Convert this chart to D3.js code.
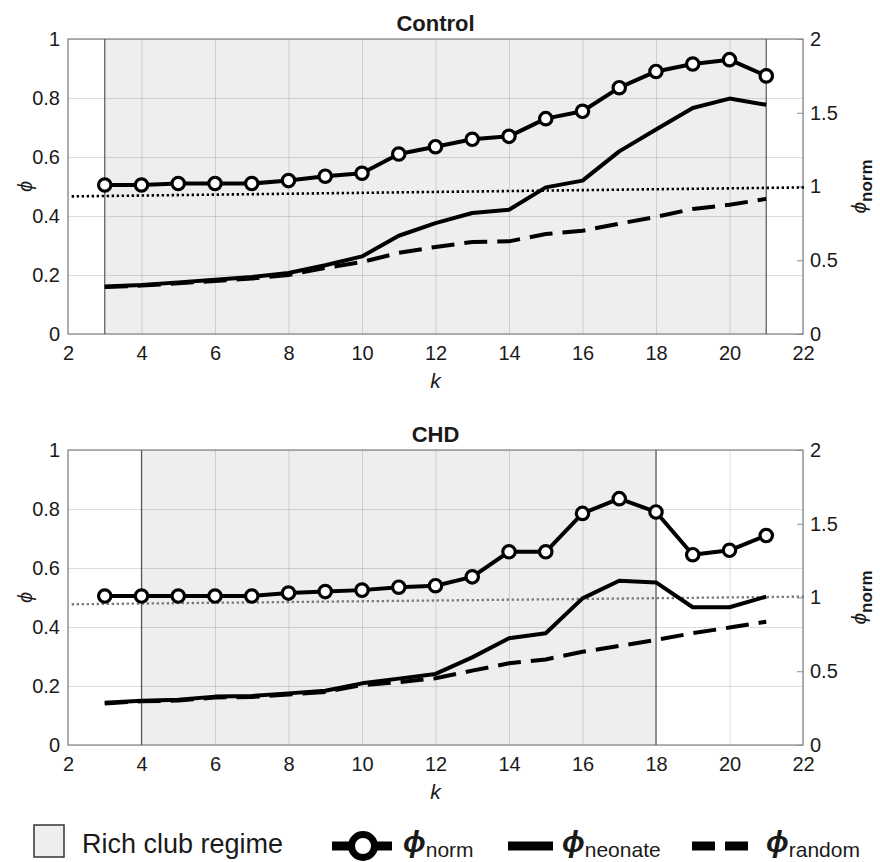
<!DOCTYPE html>
<html>
<head>
<meta charset="utf-8">
<script src="https://cdn.jsdelivr.net/npm/d3@7"></script>
<style>
  body { margin: 0; background: #fff; }
  text { font-family: "Liberation Sans", Arial, Helvetica, sans-serif; fill: #1a1a1a; }
</style>
</head>
<body>
<svg id="chart" width="880" height="862"></svg>
<script>
// degree k, same for both panels
const kValues = [3, 4, 5, 6, 7, 8, 9, 10, 11, 12, 13, 14, 15, 16, 17, 18, 19, 20, 21];

// Control
const controlNorm = [1.01, 1.01, 1.02, 1.02, 1.02, 1.04, 1.07, 1.09, 1.22, 1.27, 1.32, 1.34, 1.46, 1.51, 1.67, 1.78, 1.83, 1.86, 1.75];
const controlNeonate = [0.161, 0.166, 0.175, 0.184, 0.193, 0.207, 0.233, 0.263, 0.333, 0.376, 0.410, 0.421, 0.497, 0.520, 0.619, 0.693, 0.766, 0.798, 0.777];
const controlRandom = [0.159, 0.164, 0.172, 0.180, 0.188, 0.200, 0.224, 0.244, 0.275, 0.295, 0.312, 0.314, 0.339, 0.350, 0.374, 0.397, 0.424, 0.438, 0.458];

// CHD
const chdNorm = [1.01, 1.01, 1.01, 1.01, 1.01, 1.03, 1.04, 1.05, 1.07, 1.08, 1.14, 1.31, 1.31, 1.57, 1.67, 1.58, 1.29, 1.32, 1.42];
const chdNeonate = [0.143, 0.150, 0.153, 0.164, 0.166, 0.175, 0.184, 0.209, 0.225, 0.241, 0.297, 0.362, 0.379, 0.497, 0.557, 0.551, 0.467, 0.467, 0.503];
const chdRandom = [0.141, 0.148, 0.151, 0.161, 0.163, 0.171, 0.180, 0.203, 0.213, 0.226, 0.252, 0.277, 0.290, 0.316, 0.336, 0.356, 0.379, 0.398, 0.418];

// rich club regime (k range) and the phi_norm = 1 reference line
const controlRegime = [3, 21];
const chdRegime = [4, 18];
const refK = [2.1, 22.1];
const controlRef = [0.933, 0.994];
const chdRef = [0.954, 1.006];

// axis ticks
const xTicks = [2, 4, 6, 8, 10, 12, 14, 16, 18, 20, 22];
const yTicks = [0, 0.2, 0.4, 0.6, 0.8, 1];
const normTicks = [0, 0.5, 1, 1.5, 2];

const PHI = "\u03D5";
const svg = d3.select("#chart");
const plotLeft = 68, plotRight = 803;

const x = d3.scaleLinear().domain([2, 22]).range([plotLeft, plotRight]);

function zip(ks, vs) {
  return ks.map((k, i) => ({k, v: vs[i]}));
}

function styleTicks(sel) {
  sel.selectAll(".tick text")
    .attr("font-size", 20)
    .attr("fill", "#1a1a1a")
    .style("font-family", "Liberation Sans, Arial, sans-serif");
}

function drawPanel(p) {
  const y = d3.scaleLinear().domain([0, 1]).range([p.bottom, p.top]);
  const yNorm = d3.scaleLinear().domain([0, 2]).range([p.bottom, p.top]);
  const h = p.bottom - p.top;
  const g = svg.append("g");

  // shaded regime
  g.append("rect")
    .attr("x", x(p.regime[0]))
    .attr("y", p.top)
    .attr("width", x(p.regime[1]) - x(p.regime[0]))
    .attr("height", h)
    .attr("fill", "#eeeeee");

  // x grid + labels
  const gx = g.append("g")
    .attr("transform", `translate(0,${p.bottom})`)
    .call(d3.axisBottom(x).tickValues(xTicks).tickSize(-h).tickPadding(12).tickFormat(d3.format("d")));
  gx.select(".domain").remove();
  gx.selectAll(".tick line").attr("stroke", "#000").attr("stroke-opacity", 0.13);
  styleTicks(gx);

  // y grid + labels
  const gy = g.append("g")
    .attr("transform", `translate(${plotLeft},0)`)
    .call(d3.axisLeft(y).tickValues(yTicks).tickSize(-(plotRight - plotLeft)).tickPadding(8).tickFormat(d3.format("~g")));
  gy.select(".domain").remove();
  gy.selectAll(".tick line").attr("stroke", "#000").attr("stroke-opacity", 0.13);
  styleTicks(gy);

  // right axis (phi_norm)
  const gr = g.append("g")
    .attr("transform", `translate(${plotRight},0)`)
    .call(d3.axisRight(yNorm).tickValues(normTicks).tickSize(-6).tickPadding(7).tickFormat(d3.format("~g")));
  gr.select(".domain").remove();
  gr.selectAll(".tick line").attr("stroke", "#8a8a8a");
  styleTicks(gr);

  // box
  g.append("rect")
    .attr("x", plotLeft).attr("y", p.top)
    .attr("width", plotRight - plotLeft).attr("height", h)
    .attr("fill", "none").attr("stroke", "#8a8a8a").attr("stroke-width", 1.3);

  // regime edges
  g.selectAll(".edge").data(p.regime).join("line")
    .attr("x1", d => x(d)).attr("x2", d => x(d))
    .attr("y1", p.top).attr("y2", p.bottom)
    .attr("stroke", "#555").attr("stroke-width", 1.2);

  // reference dotted line
  g.append("path")
    .datum(zip(refK, p.ref))
    .attr("d", d3.line().x(d => x(d.k)).y(d => yNorm(d.v)))
    .attr("fill", "none")
    .attr("stroke", p.refColor)
    .attr("stroke-width", p.refWidth)
    .attr("stroke-dasharray", "2.4,2.6");

  const line = d3.line().x(d => x(d.k)).y(d => y(d.v));

  g.append("path")
    .datum(zip(kValues, p.random))
    .attr("d", line)
    .attr("fill", "none").attr("stroke", "#000").attr("stroke-width", 4)
    .attr("stroke-dasharray", "23,10");

  g.append("path")
    .datum(zip(kValues, p.neonate))
    .attr("d", line)
    .attr("fill", "none").attr("stroke", "#000").attr("stroke-width", 4)
    .attr("stroke-linejoin", "round");

  const normLine = d3.line().x(d => x(d.k)).y(d => yNorm(d.v));
  g.append("path")
    .datum(zip(kValues, p.norm))
    .attr("d", normLine)
    .attr("fill", "none").attr("stroke", "#000").attr("stroke-width", 4)
    .attr("stroke-linejoin", "round");

  g.selectAll(".pt").data(zip(kValues, p.norm)).join("circle")
    .attr("cx", d => x(d.k)).attr("cy", d => yNorm(d.v))
    .attr("r", 6.2)
    .attr("fill", "#fff").attr("stroke", "#000").attr("stroke-width", 3.2);

  // title
  g.append("text")
    .attr("x", (plotLeft + plotRight) / 2).attr("y", p.top - 8)
    .attr("text-anchor", "middle")
    .attr("font-size", 22).attr("font-weight", "bold")
    .text(p.title);

  // x label
  g.append("text")
    .attr("x", (plotLeft + plotRight) / 2).attr("y", p.bottom + 54)
    .attr("text-anchor", "middle")
    .attr("font-size", 21).attr("font-style", "italic")
    .text("k");

  const midY = (p.top + p.bottom) / 2;
  // left label
  g.append("text")
    .attr("transform", `translate(32,${midY}) rotate(-90)`)
    .attr("text-anchor", "middle")
    .attr("font-size", 20).attr("font-style", "italic")
    .text(PHI);

  // right label
  const rl = g.append("text")
    .attr("transform", `translate(866,${midY}) rotate(-90)`)
    .attr("text-anchor", "middle")
    .attr("font-size", 21);
  rl.append("tspan").attr("font-style", "italic").text(PHI);
  rl.append("tspan").attr("font-size", 17).attr("font-weight", "bold").attr("dy", 6).text("norm");
}

drawPanel({
  title: "Control", top: 39, bottom: 334,
  regime: controlRegime, ref: controlRef, refColor: "#000", refWidth: 2.6,
  norm: controlNorm, neonate: controlNeonate, random: controlRandom
});

drawPanel({
  title: "CHD", top: 450, bottom: 745,
  regime: chdRegime, ref: chdRef, refColor: "#7a7a7a", refWidth: 2.3,
  norm: chdNorm, neonate: chdNeonate, random: chdRandom
});

// legend
const lg = svg.append("g");
const legY = 846;

lg.append("rect")
  .attr("x", 34).attr("y", 825).attr("width", 30).attr("height", 32)
  .attr("fill", "#eeeeee").attr("stroke", "#333").attr("stroke-width", 1.5);
lg.append("text").attr("x", 82).attr("y", 853).attr("font-size", 27).text("Rich club regime");

lg.append("line").attr("x1", 332).attr("x2", 392).attr("y1", legY).attr("y2", legY)
  .attr("stroke", "#000").attr("stroke-width", 9);
lg.append("circle").attr("cx", 363).attr("cy", legY).attr("r", 11.5)
  .attr("fill", "#fff").attr("stroke", "#000").attr("stroke-width", 7);

lg.append("line").attr("x1", 508).attr("x2", 553).attr("y1", legY).attr("y2", legY)
  .attr("stroke", "#000").attr("stroke-width", 9);

lg.append("line").attr("x1", 692).attr("x2", 748).attr("y1", legY).attr("y2", legY)
  .attr("stroke", "#000").attr("stroke-width", 9).attr("stroke-dasharray", "23,10");

const legendLabels = [
  {x: 403, sub: "norm"},
  {x: 562, sub: "neonate"},
  {x: 766, sub: "random"}
];
legendLabels.forEach(d => {
  const t = lg.append("text").attr("x", d.x).attr("y", 852);
  t.append("tspan").attr("font-size", 30).attr("font-weight", "bold").attr("font-style", "italic").text(PHI);
  t.append("tspan").attr("font-size", 21).attr("dy", 5).text(d.sub);
});
</script>
</body>
</html>
